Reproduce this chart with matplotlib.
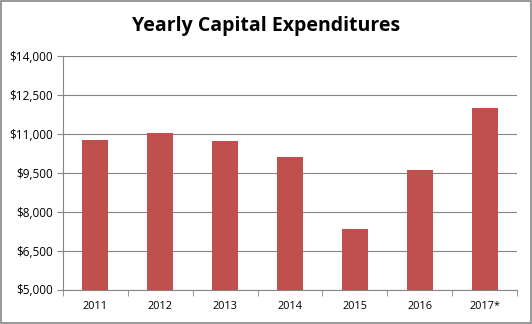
import matplotlib
matplotlib.use("Agg")
import matplotlib.pyplot as plt
from matplotlib.ticker import FixedLocator, NullFormatter
from matplotlib.patches import Rectangle

categories = ["2011", "2012", "2013", "2014", "2015", "2016", "2017*"]
values = [10760, 11020, 10720, 10090, 7330, 9600, 12000]
yticks = [5000, 6500, 8000, 9500, 11000, 12500, 14000]
ytick_labels = ["$5,000", "$6,500", "$8,000", "$9,500", "$11,000", "$12,500", "$14,000"]

plt.rcParams['font.family'] = ['Open Sans', 'DejaVu Sans']

fig = plt.figure(figsize=(5.32, 3.24), dpi=100)
ax = fig.add_axes([63/532, 1-289.5/324, (517-63)/532, (289.5-56)/324])

x = list(range(len(categories)))
ax.bar(x, values, width=0.4, color="#C0504D", zorder=3)
ax.set_xlim(-0.5, len(categories)-0.5)
ax.set_ylim(5000, 14000)
ax.set_yticks(yticks)
ax.set_yticklabels(ytick_labels, fontsize=8.5)
ax.set_xticks(x)
ax.set_xticklabels(categories, fontsize=7.8)
ax.tick_params(axis='x', length=0, pad=8)
ax.xaxis.set_minor_locator(FixedLocator([i - 0.5 for i in range(len(categories)+1)]))
ax.xaxis.set_minor_formatter(NullFormatter())
ax.tick_params(axis='x', which='minor', length=4, color="#868686", direction='out')
ax.tick_params(axis='y', length=4, color="#868686", direction='out', pad=3)
ax.grid(axis='y', color="#868686", linewidth=0.8, zorder=0)
for s in ['top', 'right']:
    ax.spines[s].set_visible(False)
for s in ['left', 'bottom']:
    ax.spines[s].set_color("#868686")
    ax.spines[s].set_linewidth(0.8)

fig.text(0.5, 1-26/324, "Yearly Capital Expenditures", ha='center', va='center',
         fontsize=14, fontweight='bold')
fig.patches.append(Rectangle((0.001, 0.002), 0.997, 0.995, transform=fig.transFigure,
                             fill=False, edgecolor="#868686", linewidth=1.2))
fig.savefig("out.png", dpi=100)
